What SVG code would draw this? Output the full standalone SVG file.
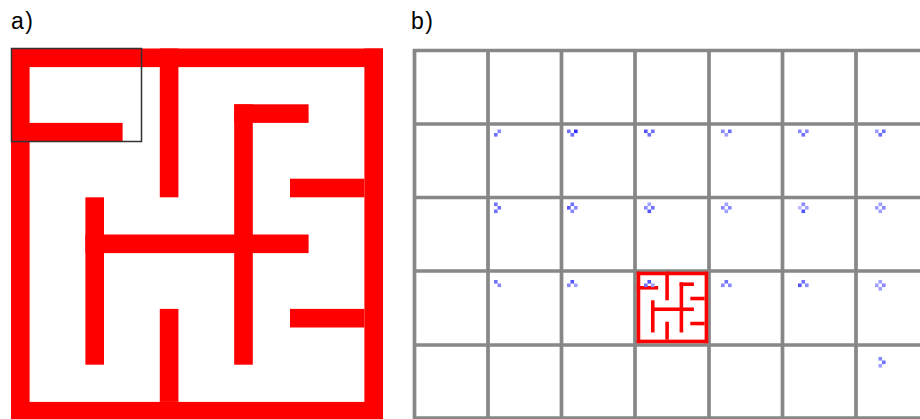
<svg xmlns="http://www.w3.org/2000/svg" xmlns:xlink="http://www.w3.org/1999/xlink" width="920" height="419" viewBox="0 0 920 419">
<style>
.lbl{font-family:"Liberation Sans",Arial,sans-serif;font-size:23px;fill:#000;letter-spacing:1.5px}
.wall{fill:#ff0000}
.grid{stroke:#878787;stroke-width:3.7;fill:none}
.b1{fill:#3333ff}.b2{fill:#5555ff}.b3{fill:#7070ff}.b4{fill:#8888ff}.b5{fill:#a0a0ff}.b6{fill:#bbbbff}
</style>
<defs>
<g id="maze">
<rect class="wall" x="0" y="0" width="372" height="18.6"/>
<rect class="wall" x="0" y="0" width="18.6" height="372"/>
<rect class="wall" x="0" y="353.4" width="372" height="18.6"/>
<rect class="wall" x="353.4" y="0" width="18.6" height="372"/>
<rect class="wall" x="0" y="74.4" width="111.6" height="18.6"/>
<rect class="wall" x="148.8" y="0" width="18.6" height="148.8"/>
<rect class="wall" x="223.2" y="55.8" width="74.4" height="18.6"/>
<rect class="wall" x="223.2" y="55.8" width="18.6" height="260.4"/>
<rect class="wall" x="279" y="130.2" width="74.4" height="18.6"/>
<rect class="wall" x="74.4" y="148.8" width="18.6" height="167.4"/>
<rect class="wall" x="74.4" y="186" width="223.2" height="18.6"/>
<rect class="wall" x="279" y="260.4" width="74.4" height="18.6"/>
<rect class="wall" x="148.8" y="260.4" width="18.6" height="93"/>
</g>
</defs>
<g id="panel-a">
<text class="lbl" x="11" y="28.5">a)</text>
<use xlink:href="#maze" href="#maze" transform="translate(11,48.5)"/>
<rect x="11.5" y="48.5" width="130" height="93" fill="none" stroke="#333" stroke-width="1.5"/>
</g>
<g id="panel-b">
<text class="lbl" x="411" y="28.5">b)</text>
<g id="grid" class="grid">
<path d="M414.5 49V419M488 49V419M561.5 49V419M635 49V419M709 49V419M782.5 49V419M856 49V419"/>
<path d="M413 50.5H920M413 124H920M413 197.5H920M413 271H920M413 345H920M413 418H920"/>
</g>
<use id="mini-maze" xlink:href="#maze" href="#maze" transform="translate(636.7,271.7) scale(0.1922)"/>
<g id="glyphs">
<rect class="b4" x="497.5" y="129.5" width="3.6" height="3.6"/><rect class="b3" x="494" y="133" width="3.6" height="3.6"/>
<rect class="b3" x="567" y="129.5" width="3.6" height="3.6"/><rect class="b1" x="574" y="129.5" width="3.6" height="3.6"/><rect class="b3" x="570.5" y="133" width="3.6" height="3.6"/>
<rect class="b2" x="644" y="129.5" width="3.6" height="3.6"/><rect class="b3" x="651" y="129.5" width="3.6" height="3.6"/><rect class="b3" x="647.5" y="133" width="3.6" height="3.6"/>
<rect class="b4" x="721" y="129.5" width="3.6" height="3.6"/><rect class="b3" x="728" y="129.5" width="3.6" height="3.6"/><rect class="b5" x="724.5" y="133" width="3.6" height="3.6"/>
<rect class="b4" x="798" y="129.5" width="3.6" height="3.6"/><rect class="b4" x="805" y="129.5" width="3.6" height="3.6"/><rect class="b3" x="801.5" y="133" width="3.6" height="3.6"/>
<rect class="b5" x="875" y="129.5" width="3.6" height="3.6"/><rect class="b3" x="882" y="129.5" width="3.6" height="3.6"/><rect class="b3" x="878.5" y="133" width="3.6" height="3.6"/>

<rect class="b3" x="494" y="202.5" width="3.6" height="3.6"/><rect class="b3" x="497.5" y="206" width="3.6" height="3.6"/><rect class="b3" x="494" y="209.5" width="3.6" height="3.6"/>
<rect class="b3" x="570.5" y="202.5" width="3.6" height="3.6"/><rect class="b2" x="567" y="206" width="3.6" height="3.6"/><rect class="b4" x="574" y="206" width="3.6" height="3.6"/><rect class="b4" x="570.5" y="209.5" width="3.6" height="3.6"/>
<rect class="b5" x="647.5" y="202.5" width="3.6" height="3.6"/><rect class="b4" x="644" y="206" width="3.6" height="3.6"/><rect class="b3" x="651" y="206" width="3.6" height="3.6"/><rect class="b2" x="647.5" y="209.5" width="3.6" height="3.6"/>
<rect class="b5" x="724.5" y="202.5" width="3.6" height="3.6"/><rect class="b4" x="721" y="206" width="3.6" height="3.6"/><rect class="b4" x="728" y="206" width="3.6" height="3.6"/><rect class="b5" x="724.5" y="209.5" width="3.6" height="3.6"/>
<rect class="b4" x="801.5" y="202.5" width="3.6" height="3.6"/><rect class="b6" x="798" y="206" width="3.6" height="3.6"/><rect class="b5" x="805" y="206" width="3.6" height="3.6"/><rect class="b2" x="801.5" y="209.5" width="3.6" height="3.6"/>
<rect class="b5" x="878.5" y="202.5" width="3.6" height="3.6"/><rect class="b5" x="875" y="206" width="3.6" height="3.6"/><rect class="b4" x="882" y="206" width="3.6" height="3.6"/><rect class="b5" x="878.5" y="209.5" width="3.6" height="3.6"/>

<rect class="b3" x="494" y="280" width="3.6" height="3.6"/><rect class="b4" x="497.5" y="283.5" width="3.6" height="3.6"/>
<rect class="b2" x="570.5" y="280" width="3.6" height="3.6"/><rect class="b4" x="567" y="283.5" width="3.6" height="3.6"/><rect class="b5" x="574" y="283.5" width="3.6" height="3.6"/>
<rect class="b2" x="647.5" y="280" width="3.6" height="3.6"/><rect class="b3" x="644" y="283.5" width="3.6" height="3.6"/><rect class="b5" x="651" y="283.5" width="3.6" height="3.6"/>
<rect class="b3" x="724.5" y="280" width="3.6" height="3.6"/><rect class="b4" x="721" y="283.5" width="3.6" height="3.6"/><rect class="b4" x="728" y="283.5" width="3.6" height="3.6"/>
<rect class="b3" x="801.5" y="280" width="3.6" height="3.6"/><rect class="b2" x="798" y="283.5" width="3.6" height="3.6"/><rect class="b4" x="805" y="283.5" width="3.6" height="3.6"/>
<rect class="b5" x="878.5" y="280" width="3.6" height="3.6"/><rect class="b5" x="875" y="283.5" width="3.6" height="3.6"/><rect class="b4" x="882" y="283.5" width="3.6" height="3.6"/><rect class="b5" x="878.5" y="287" width="3.6" height="3.6"/>

<rect class="b4" x="878.5" y="357" width="3.6" height="3.6"/><rect class="b3" x="882" y="360.5" width="3.6" height="3.6"/><rect class="b5" x="878.5" y="364" width="3.6" height="3.6"/>
</g>
</g>
</svg>
